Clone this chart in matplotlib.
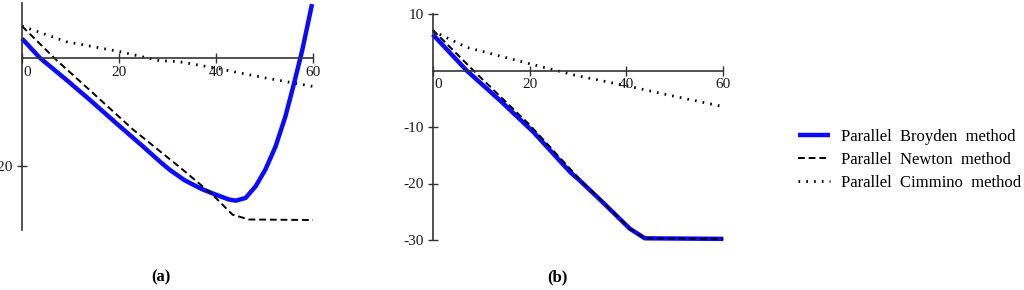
import numpy as np
import matplotlib
matplotlib.use('Agg')
import matplotlib.pyplot as plt
import matplotlib.transforms as mtransforms

plt.rcParams['font.family'] = ['Liberation Serif', 'DejaVu Serif']
plt.rcParams['axes.unicode_minus'] = False

# panel (a) values
a_broyden_x = [0, 3.7, 9.2, 14, 19.4, 24.9, 28.5, 30.5, 32.4, 33.5, 35.0, 37.2, 40, 42.7, 44.1, 46.1, 48.2, 50.2, 52.3, 54.3, 56.1, 57.8, 59.8]
a_broyden_y = [3.6, 0, -4.1, -7.8, -12.1, -16.4, -19.3, -20.8, -22.0, -22.7, -23.4, -24.4, -25.4, -26.3, -26.5, -26.0, -23.8, -20.7, -16.4, -10.9, -4.7, 1.5, 10.0]
a_newton_x = [0, 7.1, 14.6, 22.9, 32.4, 39.3, 43.4, 46.8, 60]
a_newton_y = [5.9, -0.4, -6.5, -13.3, -20.2, -25.4, -29.1, -30.0, -30.1]
a_cimmino_x = [0, 9.2, 20, 28.3, 32.4, 40, 49.5, 60]
a_cimmino_y = [5.9, 3.0, 1.2, -0.5, -0.7, -1.9, -3.6, -5.3]

# panel (b)
b_broyden_x = [0, 7.0, 13.9, 20.8, 28.4, 30.4, 35.2, 40.7, 43.8, 60]
b_broyden_y = [6.4, 0, -5.3, -10.9, -18.0, -19.5, -23.4, -28.0, -29.7, -29.8]
b_newton_x = [0, 8.4, 20, 30.4, 35.2, 40.7, 43.8, 60]
b_newton_y = [7.2, 0, -9.6, -19.3, -23.3, -28.0, -29.7, -29.8]
b_cimmino_x = [0, 7, 20, 29.7, 40, 49, 60]
b_cimmino_y = [7.0, 4.1, 1.2, -0.9, -2.7, -4.4, -6.4]

x_ticks = [0, 20, 40, 60]
a_y_ticks = [-20]
b_y_ticks = [-30, -20, -10, 10]
labels = ['Parallel  Broyden  method', 'Parallel  Newton  method', 'Parallel  Cimmino  method']

W, H = 1024, 290
fig = plt.figure(figsize=(W / 100, H / 100), dpi=100)

blue = '#0a0aff'
ink = '#1a1a1a'


def make_axes(left, right, top, bottom, ylim, yticks):
    ax = fig.add_axes([left / W, 1 - bottom / H, (right - left) / W, (bottom - top) / H])
    ax.set_xlim(0, 60)
    ax.set_ylim(*ylim)
    for s in ['top', 'right']:
        ax.spines[s].set_visible(False)
    ax.spines['bottom'].set_position(('data', 0))
    ax.spines['left'].set_position(('data', 0))
    for s in ['bottom', 'left']:
        ax.spines[s].set_color('#333333')
        ax.spines[s].set_linewidth(1.2)
    ax.set_xticks(x_ticks)
    ax.set_yticks(yticks)
    ax.tick_params(direction='inout', length=7, width=1, color='#333333',
                   labelsize=11, labelcolor=ink)
    ax.tick_params(axis='x', pad=2)
    ax.tick_params(axis='y', pad=3)
    ax.patch.set_alpha(0)
    # move the 0 label off the axis line
    lab = ax.get_xticklabels()[0]
    lab.set_transform(lab.get_transform() + mtransforms.ScaledTranslation(5 / 100, 0, fig.dpi_scale_trans))
    return ax


def draw(ax, bx, by, nx, ny, cx, cy):
    ax.plot(cx, cy, color='black', lw=2.0, linestyle=(0, (0.6, 2.2)), clip_on=False)
    ax.plot(bx, by, color=blue, lw=3.2, solid_capstyle='butt', clip_on=False)
    ax.plot(nx, ny, color='black', lw=1.4, linestyle=(0, (3.5, 2)), clip_on=False)


ax1 = make_axes(22, 313, 3, 230, (-31.95, 10.2), a_y_ticks)
draw(ax1, a_broyden_x, a_broyden_y, a_newton_x, a_newton_y, a_cimmino_x, a_cimmino_y)

ax2 = make_axes(432.7, 723.3, 14, 240, (-30, 10), b_y_ticks)
draw(ax2, b_broyden_x, b_broyden_y, b_newton_x, b_newton_y, b_cimmino_x, b_cimmino_y)

fig.text(161 / W, 1 - 277 / H, '(a)', ha='center', va='center', fontsize=12, fontweight='bold')
fig.text(557 / W, 1 - 277 / H, '(b)', ha='center', va='center', fontsize=12, fontweight='bold')

h1, = plt.plot([], [], color=blue, lw=3.2, solid_capstyle='butt')
h2, = plt.plot([], [], color='black', lw=1.4, linestyle=(0, (3.5, 2)))
h3, = plt.plot([], [], color='black', lw=2.0, linestyle=(0, (0.6, 2.2)))
fig.legend([h1, h2, h3], labels, loc='center left', bbox_to_anchor=(798 / W, 1 - 160 / H),
           frameon=False, fontsize=12, handlelength=1.9, handletextpad=0.7,
           labelspacing=0.42, borderpad=0, borderaxespad=0)

fig.savefig('out.png', dpi=100)
